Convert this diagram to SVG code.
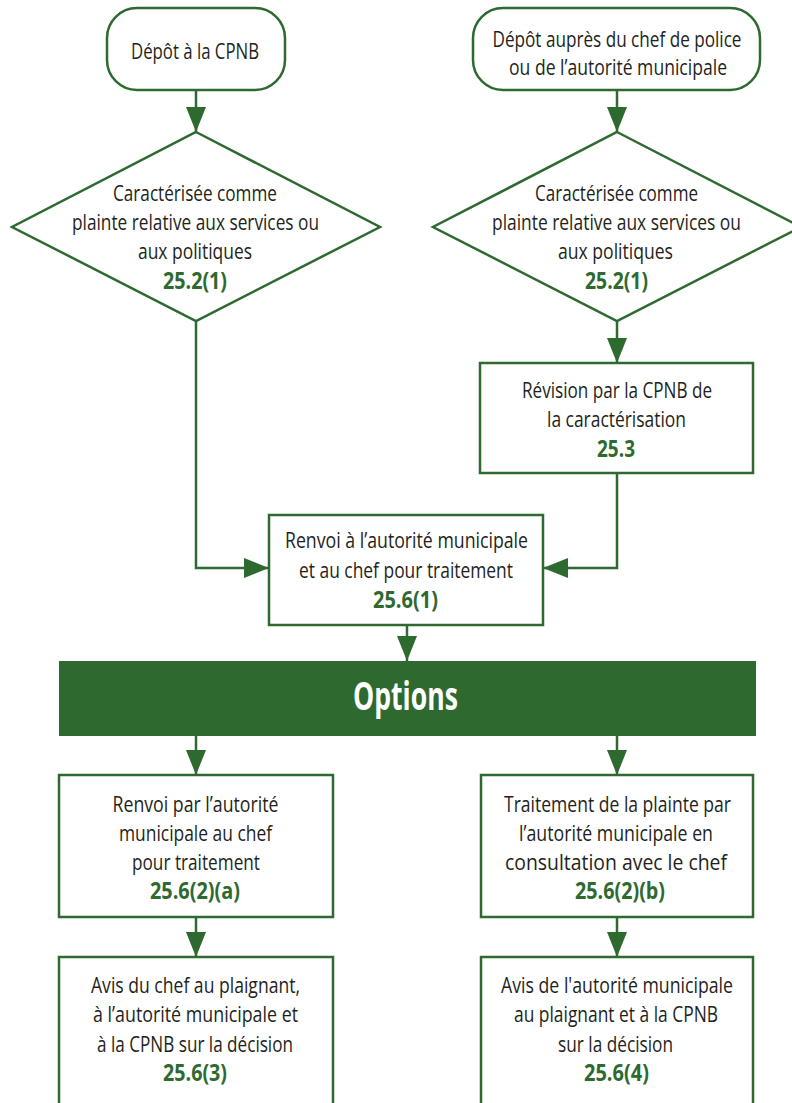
<svg xmlns="http://www.w3.org/2000/svg" width="792" height="1103" viewBox="0 0 792 1103">
<style>
.n{fill:#fff;stroke:#2e6a30;stroke-width:2.5}
.t{font-family:"Open Sans","Liberation Sans",sans-serif;font-size:22.5px;fill:#231f20;text-anchor:middle}
.b{font-family:"Open Sans","Liberation Sans",sans-serif;font-size:22.5px;font-weight:700;fill:#2e6a30;text-anchor:middle}
.c{fill:none;stroke:#2e6a30;stroke-width:2.5}
</style>
<defs>
<marker id="ah" markerUnits="userSpaceOnUse" markerWidth="26" markerHeight="22" refX="25" refY="10" orient="auto">
<path d="M0,0 L25,10 L0,20 Z" fill="#2e6a30"/>
</marker>
</defs>
<rect width="792" height="1103" fill="#fff"/>
<g id="connectors">
<path class="c" d="M196,90 V132" marker-end="url(#ah)"/>
<path class="c" d="M617,90 V132" marker-end="url(#ah)"/>
<path class="c" d="M617,321 V363" marker-end="url(#ah)"/>
<path class="c" d="M196,321 V568 H269" marker-end="url(#ah)"/>
<path class="c" d="M617,473 V568 H543" marker-end="url(#ah)"/>
<path class="c" d="M407,625 V661" marker-end="url(#ah)"/>
<path class="c" d="M196,736 V775" marker-end="url(#ah)"/>
<path class="c" d="M617,736 V775" marker-end="url(#ah)"/>
<path class="c" d="M196,917 V957" marker-end="url(#ah)"/>
<path class="c" d="M617,917 V957" marker-end="url(#ah)"/>
</g>
<g id="depot-cpnb">
<rect class="n" x="107" y="8" width="178" height="82" rx="30"/>
<text class="t" x="195" y="59" textLength="128" lengthAdjust="spacingAndGlyphs">Dépôt à la CPNB</text>
</g>
<g id="depot-chef">
<rect class="n" x="473" y="8" width="287" height="82" rx="30"/>
<text class="t" x="617" y="47" textLength="249" lengthAdjust="spacingAndGlyphs">Dépôt auprès du chef de police</text>
<text class="t" x="618" y="75" textLength="218" lengthAdjust="spacingAndGlyphs">ou de l’autorité municipale</text>
</g>
<g id="diamond-left">
<polygon class="n" points="196,132 380,227 196,321 12,227"/>
<text class="t" x="195" y="201" textLength="164" lengthAdjust="spacingAndGlyphs">Caractérisée comme</text>
<text class="t" x="195.5" y="230" textLength="247" lengthAdjust="spacingAndGlyphs">plainte relative aux services ou</text>
<text class="t" x="195" y="259" textLength="114" lengthAdjust="spacingAndGlyphs">aux politiques</text>
<text class="b" x="195" y="289" textLength="64" lengthAdjust="spacingAndGlyphs">25.2(1)</text>
</g>
<g id="diamond-right">
<polygon class="n" points="617,132 801,227 617,321 433,227"/>
<text class="t" x="616.5" y="201" textLength="163" lengthAdjust="spacingAndGlyphs">Caractérisée comme</text>
<text class="t" x="616.5" y="230" textLength="249" lengthAdjust="spacingAndGlyphs">plainte relative aux services ou</text>
<text class="t" x="615.5" y="259" textLength="115" lengthAdjust="spacingAndGlyphs">aux politiques</text>
<text class="b" x="616.5" y="289" textLength="63" lengthAdjust="spacingAndGlyphs">25.2(1)</text>
</g>
<g id="revision">
<rect class="n" x="480" y="363" width="273" height="110"/>
<text class="t" x="617" y="398" textLength="190" lengthAdjust="spacingAndGlyphs">Révision par la CPNB de</text>
<text class="t" x="616.5" y="427" textLength="139" lengthAdjust="spacingAndGlyphs">la caractérisation</text>
<text class="b" x="616" y="457" textLength="38" lengthAdjust="spacingAndGlyphs">25.3</text>
</g>
<g id="renvoi">
<rect class="n" x="269" y="515" width="274" height="110"/>
<text class="t" x="406.5" y="548" textLength="243" lengthAdjust="spacingAndGlyphs">Renvoi à l’autorité municipale</text>
<text class="t" x="406" y="578" textLength="214" lengthAdjust="spacingAndGlyphs">et au chef pour traitement</text>
<text class="b" x="405.5" y="608" textLength="65" lengthAdjust="spacingAndGlyphs">25.6(1)</text>
</g>
<g id="options">
<rect x="59" y="661" width="697" height="75" fill="#2e6a30"/>
<text x="405.5" y="710" textLength="105" lengthAdjust="spacingAndGlyphs" style="font-family:'Open Sans','Liberation Sans',sans-serif;font-size:39px;font-weight:700;fill:#fff;text-anchor:middle">Options</text>
</g>
<g id="option-a">
<rect class="n" x="59" y="775" width="274" height="142"/>
<text class="t" x="195.5" y="812" textLength="166" lengthAdjust="spacingAndGlyphs">Renvoi par l’autorité</text>
<text class="t" x="195.5" y="841" textLength="153" lengthAdjust="spacingAndGlyphs">municipale au chef</text>
<text class="t" x="196" y="870" textLength="128" lengthAdjust="spacingAndGlyphs">pour traitement</text>
<text class="b" x="195" y="899" textLength="90" lengthAdjust="spacingAndGlyphs">25.6(2)(a)</text>
</g>
<g id="option-b">
<rect class="n" x="481" y="775" width="272" height="142"/>
<text class="t" x="617.5" y="812" textLength="227" lengthAdjust="spacingAndGlyphs">Traitement de la plainte par</text>
<text class="t" x="616" y="841" textLength="194" lengthAdjust="spacingAndGlyphs">l’autorité municipale en</text>
<text class="t" x="616" y="870" textLength="222" lengthAdjust="spacingAndGlyphs">consultation avec le chef</text>
<text class="b" x="620" y="899" textLength="90" lengthAdjust="spacingAndGlyphs">25.6(2)(b)</text>
</g>
<g id="avis-chef">
<rect class="n" x="59" y="957" width="274" height="160"/>
<text class="t" x="195.5" y="993" textLength="209" lengthAdjust="spacingAndGlyphs">Avis du chef au plaignant,</text>
<text class="t" x="195.5" y="1022" textLength="205" lengthAdjust="spacingAndGlyphs">à l’autorité municipale et</text>
<text class="t" x="195" y="1052" textLength="196" lengthAdjust="spacingAndGlyphs">à la CPNB sur la décision</text>
<text class="b" x="195" y="1081" textLength="64" lengthAdjust="spacingAndGlyphs">25.6(3)</text>
</g>
<g id="avis-municipale">
<rect class="n" x="481" y="957" width="272" height="160"/>
<text class="t" x="617" y="993" textLength="232" lengthAdjust="spacingAndGlyphs">Avis de l'autorité municipale</text>
<text class="t" x="616" y="1022" textLength="204" lengthAdjust="spacingAndGlyphs">au plaignant et à la CPNB</text>
<text class="t" x="615.5" y="1052" textLength="115" lengthAdjust="spacingAndGlyphs">sur la décision</text>
<text class="b" x="616.5" y="1081" textLength="65" lengthAdjust="spacingAndGlyphs">25.6(4)</text>
</g>
</svg>
